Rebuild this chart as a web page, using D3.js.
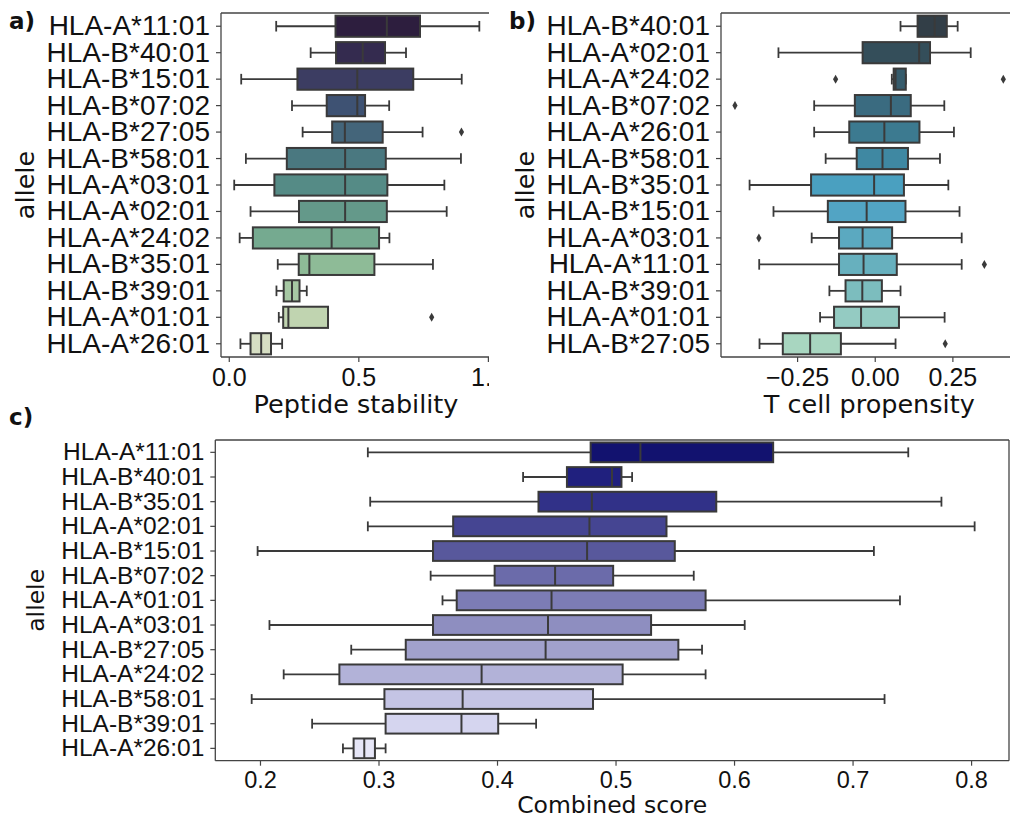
<!DOCTYPE html>
<html>
<head>
<meta charset="utf-8">
<script src="https://cdn.jsdelivr.net/npm/d3@7"></script>
<style>
  body { margin: 0; background: #fff; }
  svg { font-family: "DejaVu Sans", sans-serif; }
</style>
</head>
<body>
<div id="container"></div>
<script>
// a) peptide stability, boxes are [whisker low, q1, median, q3, whisker high]
const stabilityAlleles = ['HLA-A*11:01','HLA-B*40:01','HLA-B*15:01','HLA-B*07:02','HLA-B*27:05','HLA-B*58:01',
  'HLA-A*03:01','HLA-A*02:01','HLA-A*24:02','HLA-B*35:01','HLA-B*39:01','HLA-A*01:01','HLA-A*26:01'];
const stabilityBoxes = [
  [0.183, 0.412, 0.610, 0.738, 0.967],
  [0.316, 0.414, 0.517, 0.603, 0.684],
  [0.048, 0.265, 0.496, 0.712, 0.899],
  [0.244, 0.378, 0.496, 0.526, 0.619],
  [0.285, 0.399, 0.448, 0.594, 0.748],
  [0.066, 0.224, 0.449, 0.606, 0.896],
  [0.021, 0.176, 0.449, 0.612, 0.832],
  [0.084, 0.271, 0.449, 0.610, 0.841],
  [0.042, 0.093, 0.397, 0.580, 0.620],
  [0.189, 0.270, 0.311, 0.562, 0.788],
  [0.184, 0.212, 0.244, 0.273, 0.301],
  [0.193, 0.210, 0.230, 0.383, 0.383],
  [0.045, 0.084, 0.125, 0.163, 0.206]
];
const stabilityOutliers = [['HLA-B*27:05', 0.898], ['HLA-A*01:01', 0.783]];
const stabilityTicks = [0, 0.5, 1.0];

// b) T cell propensity
const propensityAlleles = ['HLA-B*40:01','HLA-A*02:01','HLA-A*24:02','HLA-B*07:02','HLA-A*26:01','HLA-B*58:01',
  'HLA-B*35:01','HLA-B*15:01','HLA-A*03:01','HLA-A*11:01','HLA-B*39:01','HLA-A*01:01','HLA-B*27:05'];
const propensityBoxes = [
  [0.083, 0.138, 0.193, 0.232, 0.267],
  [-0.310, -0.039, 0.143, 0.178, 0.309],
  [0.055, 0.061, 0.067, 0.100, 0.100],
  [-0.195, -0.064, 0.052, 0.116, 0.224],
  [-0.195, -0.082, 0.031, 0.144, 0.255],
  [-0.158, -0.058, 0.025, 0.107, 0.210],
  [-0.403, -0.205, -0.002, 0.094, 0.237],
  [-0.326, -0.151, -0.026, 0.099, 0.273],
  [-0.203, -0.115, -0.039, 0.056, 0.280],
  [-0.372, -0.115, -0.036, 0.071, 0.280],
  [-0.146, -0.094, -0.040, 0.023, 0.083],
  [-0.176, -0.131, -0.044, 0.078, 0.225],
  [-0.371, -0.296, -0.208, -0.109, 0.067]
];
const propensityOutliers = [['HLA-A*24:02', -0.126], ['HLA-A*24:02', 0.414], ['HLA-B*07:02', -0.450],
  ['HLA-A*03:01', -0.373], ['HLA-A*11:01', 0.353], ['HLA-B*27:05', 0.227]];
const propensityTicks = [-0.25, 0, 0.25];

// c) combined score
const combinedAlleles = ['HLA-A*11:01','HLA-B*40:01','HLA-B*35:01','HLA-A*02:01','HLA-B*15:01','HLA-B*07:02',
  'HLA-A*01:01','HLA-A*03:01','HLA-B*27:05','HLA-A*24:02','HLA-B*58:01','HLA-B*39:01','HLA-A*26:01'];
const combinedBoxes = [
  [0.291, 0.479, 0.521, 0.633, 0.747],
  [0.422, 0.459, 0.497, 0.505, 0.514],
  [0.293, 0.435, 0.480, 0.585, 0.775],
  [0.291, 0.363, 0.478, 0.543, 0.803],
  [0.198, 0.346, 0.476, 0.550, 0.718],
  [0.344, 0.398, 0.449, 0.498, 0.566],
  [0.354, 0.366, 0.446, 0.576, 0.740],
  [0.208, 0.346, 0.443, 0.530, 0.609],
  [0.277, 0.323, 0.441, 0.553, 0.573],
  [0.220, 0.267, 0.387, 0.506, 0.576],
  [0.193, 0.305, 0.371, 0.481, 0.727],
  [0.244, 0.306, 0.370, 0.401, 0.433],
  [0.270, 0.279, 0.288, 0.297, 0.306]
];
const combinedOutliers = [];
const combinedTicks = [0.2, 0.3, 0.4, 0.5, 0.6, 0.7, 0.8];

// palettes (style)
const stabilityColors = ['#2d1e3e','#342b4f','#3c3d62','#3e5273','#44657a','#4a7880','#558b86',
  '#64998a','#75aa90','#8ebb97','#a6c8a3','#c0d4b0','#d6dec3'];
const propensityColors = ['#323e47','#344e5a','#365b6b','#3a6b80','#3c7a90','#3f88a2','#4aa0c0',
  '#52a4c4','#5ba9c0','#67b0be','#7cbdbe','#94cbc2','#a8d6c0'];
const combinedColors = ['#12126f','#20207e','#313188','#454592','#58589c','#6b6baa','#7c7cb5',
  '#8e8ec0','#a1a1cc','#b2b2d8','#c4c4e4','#d5d5ef','#e6e6f7'];

const width = 1010, height = 820;
const lineColor = '#3a3a3a';

const svg = d3.select('#container').append('svg')
  .attr('width', width).attr('height', height);

svg.append('clipPath').attr('id', 'clipA')
  .append('rect').attr('x', 0).attr('y', 0).attr('width', 489).attr('height', 440);

const panels = [
  { alleles: stabilityAlleles, boxes: stabilityBoxes, outliers: stabilityOutliers, colors: stabilityColors,
    ticks: stabilityTicks, fmt: d3.format('.1f'), domain: [-0.03, 1.012], xr: [221, 491], yr: [13, 357],
    title: 'Peptide stability', labelSize: 28, tickSize: 25, titleSize: 25.5, titleDy: 56, clip: 'clipA', rightSpine: false,
    yLabelX: 25, tag: 'a)', tagX: 9, tagY: 29 },
  { alleles: propensityAlleles, boxes: propensityBoxes, outliers: propensityOutliers, colors: propensityColors,
    ticks: propensityTicks, fmt: d => d3.format('.2f')(d).replace('-', '\u2212'), domain: [-0.495, 0.46], xr: [721, 1017.6], yr: [13, 357],
    title: 'T cell propensity', labelSize: 28, tickSize: 25, titleSize: 25.5, titleDy: 56, clip: null, rightSpine: false,
    yLabelX: 525, tag: 'b)', tagX: 509, tagY: 29 },
  { alleles: combinedAlleles, boxes: combinedBoxes, outliers: combinedOutliers, colors: combinedColors,
    ticks: combinedTicks, fmt: d3.format('.1f'), domain: [0.1623, 0.832], xr: [215.3, 1009], yr: [440, 760.7],
    title: 'Combined score', labelSize: 24.5, tickSize: 23.5, titleSize: 23.5, titleDy: 52, clip: null, rightSpine: true,
    yLabelX: 36, tag: 'c)', tagX: 9, tagY: 425 }
];

panels.forEach(p => {
  const g = svg.append('g');
  if (p.clip) g.attr('clip-path', `url(#${p.clip})`);

  const x = d3.scaleLinear().domain(p.domain).range(p.xr);
  const y = d3.scaleBand().domain(p.alleles).range(p.yr).padding(0);
  const bh = y.bandwidth() * 0.8;
  const cy = a => y(a) + y.bandwidth() / 2;

  const rows = g.append('g').selectAll('g')
    .data(p.boxes.map((b, i) => ({ allele: p.alleles[i], b: b, color: p.colors[i] })))
    .join('g');

  // whiskers and caps
  rows.append('line')
    .attr('x1', d => x(d.b[0])).attr('x2', d => x(d.b[1]))
    .attr('y1', d => cy(d.allele)).attr('y2', d => cy(d.allele));
  rows.append('line')
    .attr('x1', d => x(d.b[3])).attr('x2', d => x(d.b[4]))
    .attr('y1', d => cy(d.allele)).attr('y2', d => cy(d.allele));
  rows.append('line')
    .attr('x1', d => x(d.b[0])).attr('x2', d => x(d.b[0]))
    .attr('y1', d => cy(d.allele) - bh / 4).attr('y2', d => cy(d.allele) + bh / 4);
  rows.append('line')
    .attr('x1', d => x(d.b[4])).attr('x2', d => x(d.b[4]))
    .attr('y1', d => cy(d.allele) - bh / 4).attr('y2', d => cy(d.allele) + bh / 4);
  rows.selectAll('line').attr('stroke', lineColor).attr('stroke-width', 1.8);

  rows.append('rect')
    .attr('x', d => x(d.b[1]))
    .attr('width', d => x(d.b[3]) - x(d.b[1]))
    .attr('y', d => cy(d.allele) - bh / 2)
    .attr('height', bh)
    .attr('fill', d => d.color)
    .attr('stroke', lineColor).attr('stroke-width', 2);
  rows.append('line')
    .attr('x1', d => x(d.b[2])).attr('x2', d => x(d.b[2]))
    .attr('y1', d => cy(d.allele) - bh / 2).attr('y2', d => cy(d.allele) + bh / 2)
    .attr('stroke', lineColor).attr('stroke-width', 2);

  // outliers (thin diamonds)
  g.append('g').selectAll('path')
    .data(p.outliers)
    .join('path')
    .attr('transform', d => `translate(${x(d[1])},${cy(d[0])})`)
    .attr('d', 'M0,-4.5L2.6,0L0,4.5L-2.6,0Z')
    .attr('fill', lineColor);

  // axes
  const xAxis = g.append('g')
    .attr('transform', `translate(0,${p.yr[1]})`)
    .call(d3.axisBottom(x).tickValues(p.ticks).tickFormat(p.fmt).tickSize(5).tickPadding(6));
  xAxis.selectAll('text').attr('font-size', p.tickSize).attr('fill', '#111');
  xAxis.selectAll('line').attr('stroke', '#444').attr('stroke-width', 1.2);

  const yAxis = g.append('g')
    .attr('transform', `translate(${p.xr[0]},0)`)
    .call(d3.axisLeft(y).tickSize(5).tickPadding(6));
  yAxis.selectAll('text').attr('font-size', p.labelSize).attr('fill', '#111');
  yAxis.selectAll('line').attr('stroke', '#444').attr('stroke-width', 1.2);
  svg.selectAll('.domain').remove();

  // spines
  const spine = (x1, y1, x2, y2) => g.append('line')
    .attr('x1', x1).attr('y1', y1).attr('x2', x2).attr('y2', y2)
    .attr('stroke', '#444').attr('stroke-width', 1.3);
  spine(p.xr[0], p.yr[0], p.xr[0], p.yr[1]);
  spine(p.xr[0], p.yr[0], p.xr[1], p.yr[0]);
  spine(p.xr[0], p.yr[1], p.xr[1], p.yr[1]);
  if (p.rightSpine) spine(p.xr[1], p.yr[0], p.xr[1], p.yr[1]);

  // titles
  svg.append('text')
    .attr('x', (p.xr[0] + p.xr[1]) / 2).attr('y', p.yr[1] + p.titleDy)
    .attr('text-anchor', 'middle').attr('font-size', p.titleSize).attr('fill', '#111')
    .text(p.title);
  svg.append('text')
    .attr('transform', `translate(${p.yLabelX},${(p.yr[0] + p.yr[1]) / 2}) rotate(-90)`)
    .attr('text-anchor', 'middle').attr('dy', '0.35em')
    .attr('font-size', p.titleSize).attr('fill', '#111')
    .text('allele');
  svg.append('text')
    .attr('x', p.tagX).attr('y', p.tagY)
    .attr('font-size', 23).attr('font-weight', 'bold').attr('fill', '#111')
    .text(p.tag);
});
</script>
</body>
</html>
